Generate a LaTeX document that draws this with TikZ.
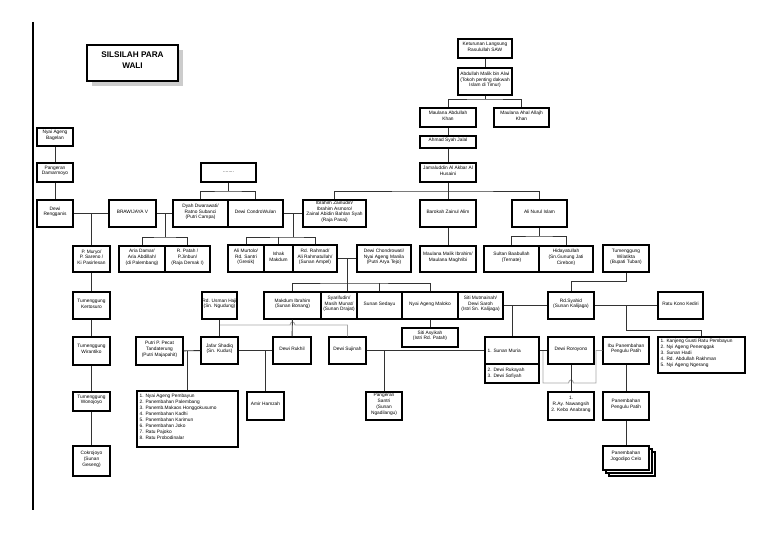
\documentclass[tikz,border=0pt]{standalone}
\usepackage{fontspec}
\setmainfont{Liberation Sans}
\usetikzlibrary{fit}

\begin{document}
\begin{tikzpicture}[x=0.3mm, y=-0.3mm,
    box/.style={draw, fill=white, line width=0.9pt, inner sep=0pt, align=center, font=\fontsize{4.1}{5.1}\selectfont},
    txt/.style={inner sep=0pt, align=left, font=\fontsize{4.1}{5.1}\selectfont},
    link/.style={line width=0.8pt, black!80},
    faint/.style={line width=0.8pt, black!35}]

    \useasboundingbox (0,0) rectangle (768,543);
    \draw[line width=0.9pt] (33,22) -- (33,510);

    \node[fill=black!20, inner sep=0pt, fit={(92,50) (183,86)}] (tsh) {};
    \node[box, fit={(87,45) (178,81)}, font=\fontsize{7}{9}\selectfont\bfseries] (title) {SILSILAH PARA\\WALI};

    \node[box, fit={(458,39) (512,58)}] (kel) {Keturunan Langsung\\Rasulullah SAW};
    \node[box, fit={(458,68) (512,95)}] (abd) {Abdullah Malik bin Alwi\\(Tokoh penting dakwah\\Islam di Timur)};
    \node[box, fit={(420,108) (476,127)}] (mak) {Maulana Abdullah\\Khan};
    \node[box, fit={(494,108) (549,127)}] (mah) {Maulana Ahal Allajh\\Khan};
    \node[box, fit={(420,136) (476,148)}] (asj) {Ahmad Syah Jalal};
    \node[box, fit={(420,163) (476,182)}] (jam) {Jamaluddin Al Akbar Al\\Husaini};

    \node[box, fit={(201,163) (256,182)}] (dots) {........};
    \node[box, fit={(37,128) (73,146)}] (nab) {Nyai Ageng\\Bagelan};
    \node[box, fit={(37,163) (73,182)}] (pdm) {Pangeran\\Damarmoyo};
    \node[box, fit={(37,200) (73,227)}] (dre) {Dewi\\Rengganis};
    \node[box, fit={(109,200) (156,227)}] (brw) {BRAWIJAYA V};
    \node[box, fit={(173,200) (228,227)}] (dyah) {Dyah Dwarawati/\\Ratno Subanci\\(Putri Campa)};
    \node[box, fit={(228,200) (283,227)}] (dcw) {Dewi CondroWulan};
    \node[box, fit={(303,200) (366,227)}] (ibz) {Ibrahim Zainudin/\\Ibrahim Asmoro/\\Zainal Abidin Bahlan Syah\\(Raja Pasai)};
    \node[box, fit={(420,200) (476,227)}] (bza) {Barokah Zainul Alim};
    \node[box, fit={(512,200) (567,227)}] (ani) {Ali Nurul Islam};

    \node[box, fit={(73,246) (110,272)}] (pmu) {P. Muryo/\\P. Sareno /\\Ki Pasirlesan};
    \node[box, fit={(119,246) (165,272)}] (ard) {Aria Damar/\\Aria Abdillah/\\(di Palembang)};
    \node[box, fit={(165,246) (210,272)}] (rpt) {R. Patah /\\P.Jinbun/\\(Raja Demak I)};
    \node[box, fit={(228,245) (264,272)}] (amu) {Ali Murtolo/\\Rd. Santri\\(Gresik)};
    \node[box, fit={(264,245) (293,272)}] (imk) {Ishak\\Makdum};
    \node[box, fit={(293,245) (337,272)}] (rrh) {Rd. Rahmad/\\Ali Rahmatullah/\\(Sunan Ampel)};
    \node[box, fit={(357,245) (411,272)}] (dch) {Dewi Chondrowati/\\Nyai Ageng Manila\\(Putri Arya Tejo)};
    \node[box, fit={(420,246) (476,272)}] (mmi) {Maulana Malik Ibrahim/\\Maulana Maghribi};
    \node[box, fit={(484,246) (539,272)}] (sbb) {Sultan Baabullah\\(Ternate)};
    \node[box, fit={(539,246) (593,272)}] (hid) {Hidayatullah\\(Sn.Gunung Jati\\Cirebon)};
    \node[box, fit={(603,245) (649,272)}] (twl) {Tumenggung\\Wilatikta\\(Bupati Tuban)};

    \node[box, fit={(73,292) (110,319)}] (tkt) {Tumenggung\\Kertosuro};
    \node[box, fit={(202,292) (237,319)}] (ruh) {Rd. Usman Haji\\(Sn. Ngudung)};
    \node[box, fit={(264,292) (321,319)}] (mib) {Makdum Ibrahim\\(Sunan Bonang)};
    \node[box, fit={(321,292) (357,319)}] (syf) {Syarifudin/\\Masih Munat/\\(Sunan Drajat)};
    \node[box, fit={(357,292) (402,319)}] (sed) {Sunan Sedayu};
    \node[box, fit={(402,292) (458,319)}] (nam) {Nyai Ageng Maloko};
    \node[box, fit={(458,292) (503,319)}] (smt) {Siti Mutmainah/\\Dewi Saroh\\(Istri Sn. Kalijaga)};
    \node[box, fit={(548,292) (594,319)}] (rsy) {Rd.Syahid\\(Sunan Kalijaga)};
    \node[box, fit={(658,292) (703,319)}] (rkk) {Ratu Kono Kediri};
    \node[box, fit={(402,328) (458,347)}] (sas) {Siti Asyikah\\(Istri Rd. Patah)};
    \node[box, fit={(658,337) (745,373)}] (lst2) {};
    \node[txt, anchor=north west] (lst2t) at (660.5,338.5) {1. Kanjeng Gusti Ratu Pembayun\\2. Nyi Ageng Penenggak\\3. Sunan Hadi\\4. Rd. Abdullah Rakhman\\5. Nyi Ageng Ngerang};

    \node[box, fit={(73,337) (110,365)}] (twr) {Tumenggung\\Wirantiko};
    \node[box, fit={(136,337) (183,365)}] (ppp) {Putri P. Pecat\\Tandaterung\\(Putri Majapahit)};
    \node[box, fit={(201,337) (238,364)}] (jaf) {Jafar Shadiq\\(Sn. Kudus)};
    \node[box, fit={(273,337) (311,364)}] (dru) {Dewi Rukhil};
    \node[box, fit={(329,337) (366,364)}] (dsj) {Dewi Sujinah};
    \node[box, fit={(485,337) (539,383)}] (smr) {};
    \draw[line width=0.9pt] (485,364) -- (539,364);
    \node[txt, anchor=west] (smr1) at (487.5,350.5) {1. Sunan Muria};
    \node[txt, anchor=west] (smr2) at (487.5,373.5) {2. Dewi Rukayah\\3. Dewi Sofiyah};
    \node[box, fit={(548,337) (594,364)}] (drr) {Dewi Roroyono};
    \node[box, fit={(603,337) (649,364)}] (ibp) {Ibu Panembahan\\Pengulu Patih};

    \node[box, fit={(73,392) (110,411)}] (twn) {Tumenggung\\Wonojoyo};
    \node[box, fit={(137,391) (238,447)}] (lst1) {};
    \node[txt, anchor=north west] (lst1t) at (139.5,393.5) {1. Nyai Ageng Pembayun\\2. Panembahan Palembang\\3. Panemb.Makaos Honggokusumo\\4. Panembahan Kadhi\\5. Panembahan Karimun\\6. Panembahan Joko\\7. Ratu Pajoko\\8. Ratu Probodinalar};
    \node[box, fit={(247,392) (284,420)}] (amh) {Amir Hamzah};
    \node[box, fit={(366,392) (402,420)}] (pst) {Pangeran\\Santri\\(Sunan\\Ngadilangu)};
    \node[box, fit={(548,392) (594,420)}] (ray) {1.\\R.Ay. Nawangsih\\2. Kebo Anabrang};
    \node[box, fit={(603,392) (649,420)}] (ppt) {Panembahan\\Pengulu Patih};

    \node[box, fit={(609,452) (655,476)}] (jgd3) {};
    \node[box, fit={(606,449) (652,473)}] (jgd2) {};
    \node[box, fit={(603,446) (649,470)}] (jgd) {Panembahan\\Jogodipo Celo};
    \node[box, fit={(73,446) (110,476)}] (cok) {Cokrojoyo\\(Sunan\\Geseng)};

    \coordinate (j1) at (485,99);
    \draw[link] (kel) -- (abd);
    \draw[link] (abd) -- (j1);
    \draw[link] (mak.north) |- (j1) -| (mah.north);
    \draw[link] (mak) -- (asj) -- (jam);

    \coordinate (j2) at (448,191);
    \draw[link] (jam) -- (j2);
    \draw[link] (ibz.north) |- (j2) -| (ani.north);
    \draw[link] (j2) -- (bza);
    \draw[link] (bza) -- (mmi);

    \coordinate (j3) at (228.5,191);
    \draw[link] (dots) -- (j3);
    \draw[link] (dyah.north) |- (j3) -| (dcw.north);

    \coordinate (j4) at (293,213.5);
    \coordinate (j5) at (293,237);
    \draw[link] (dcw) -- (ibz);
    \draw[link] (j4) -- (j5);
    \draw[link] (amu.north) |- (j5) -| (rrh.north);
    \draw[link] (imk.north) -- (imk.north |- j5);

    \coordinate (j6) at (165,213.5);
    \coordinate (j7) at (165,237);
    \draw[link] (brw) -- (dyah);
    \draw[link] (j6) -- (j7);
    \draw[link] (ard.north) |- (j7) -| (rpt.north);

    \coordinate (j8) at (91.5,213.5);
    \draw[link] (dre) -- (brw);
    \draw[link] (j8) -- (pmu);
    \draw[link] (nab) -- (pdm) -- (dre);
    \draw[link] (pmu) -- (tkt) -- (twr) -- (twn) -- (cok);

    \coordinate (j9) at (347,258.5);
    \coordinate (j10) at (347,283);
    \draw[link] (rrh) -- (dch);
    \draw[link] (j9) -- (j10);
    \draw[link] (mib.north) |- (j10) -| (nam.north);
    \draw[link] (j10) -- (j10 |- syf.north);
    \draw[link] (sed.north) -- (sed.north |- j10);
    \draw[link] (nam) -- (sas);

    \coordinate (j11) at (539.5,236);
    \draw[link] (ani) -- (j11);
    \draw[link] (sbb.north) |- (j11) -| (hid.north);

    \coordinate (j12) at (626,281);
    \draw[link] (twl) -- (j12) -| (rsy.north);

    \coordinate (j13) at (512,305.5);
    \coordinate (j14) at (626,305.5);
    \coordinate (j15) at (626,330);
    \draw[link] (smt) -- (rsy);
    \draw[link] (j13) -- (smr);
    \draw[link] (rsy) -- (rkk);
    \draw[link] (j14) -- (j15) -| (lst2.north);

    \coordinate (hop1) at (292.5,325);
    \draw[faint] (ruh.south |- hop1) -- ([xshift=-0.75mm]hop1) .. controls +(0.5,-4) and +(-0.5,-4) .. ([xshift=0.75mm]hop1) -| (dsj.north);
    \draw[link] (ruh) -- (jaf);
    \draw[link] (mib) -- (dru);

    \coordinate (j16) at (187,350.5);
    \coordinate (j17) at (265.5,350.5);
    \coordinate (j18) at (384,350.5);
    \draw[link] (ppp) -- (jaf);
    \draw[link] (j16) -- (j16 |- lst1.north);
    \draw[link] (jaf) -- (dru);
    \draw[link] (j17) -- (amh);
    \draw[link] (dsj.east) -- (dsj.east -| smr.west);
    \draw[link] (j18) -- (pst);

    \coordinate (g2) at (543,350.5);
    \coordinate (g3) at (596,350.5);
    \coordinate (hop2) at (571,383);
    \draw[faint] (g2) -- (g2 |- hop2) -- ([xshift=-0.75mm]hop2) .. controls +(0.5,-4) and +(-0.5,-4) .. ([xshift=0.75mm]hop2) -| (g3) -- (ibp);
    \draw[link] (smr.east |- drr) -- (drr);
    \draw[link] (drr) -- (ray);
    \draw[link] (ibp) -- (ppt) -- (jgd);

\end{tikzpicture}
\end{document}
